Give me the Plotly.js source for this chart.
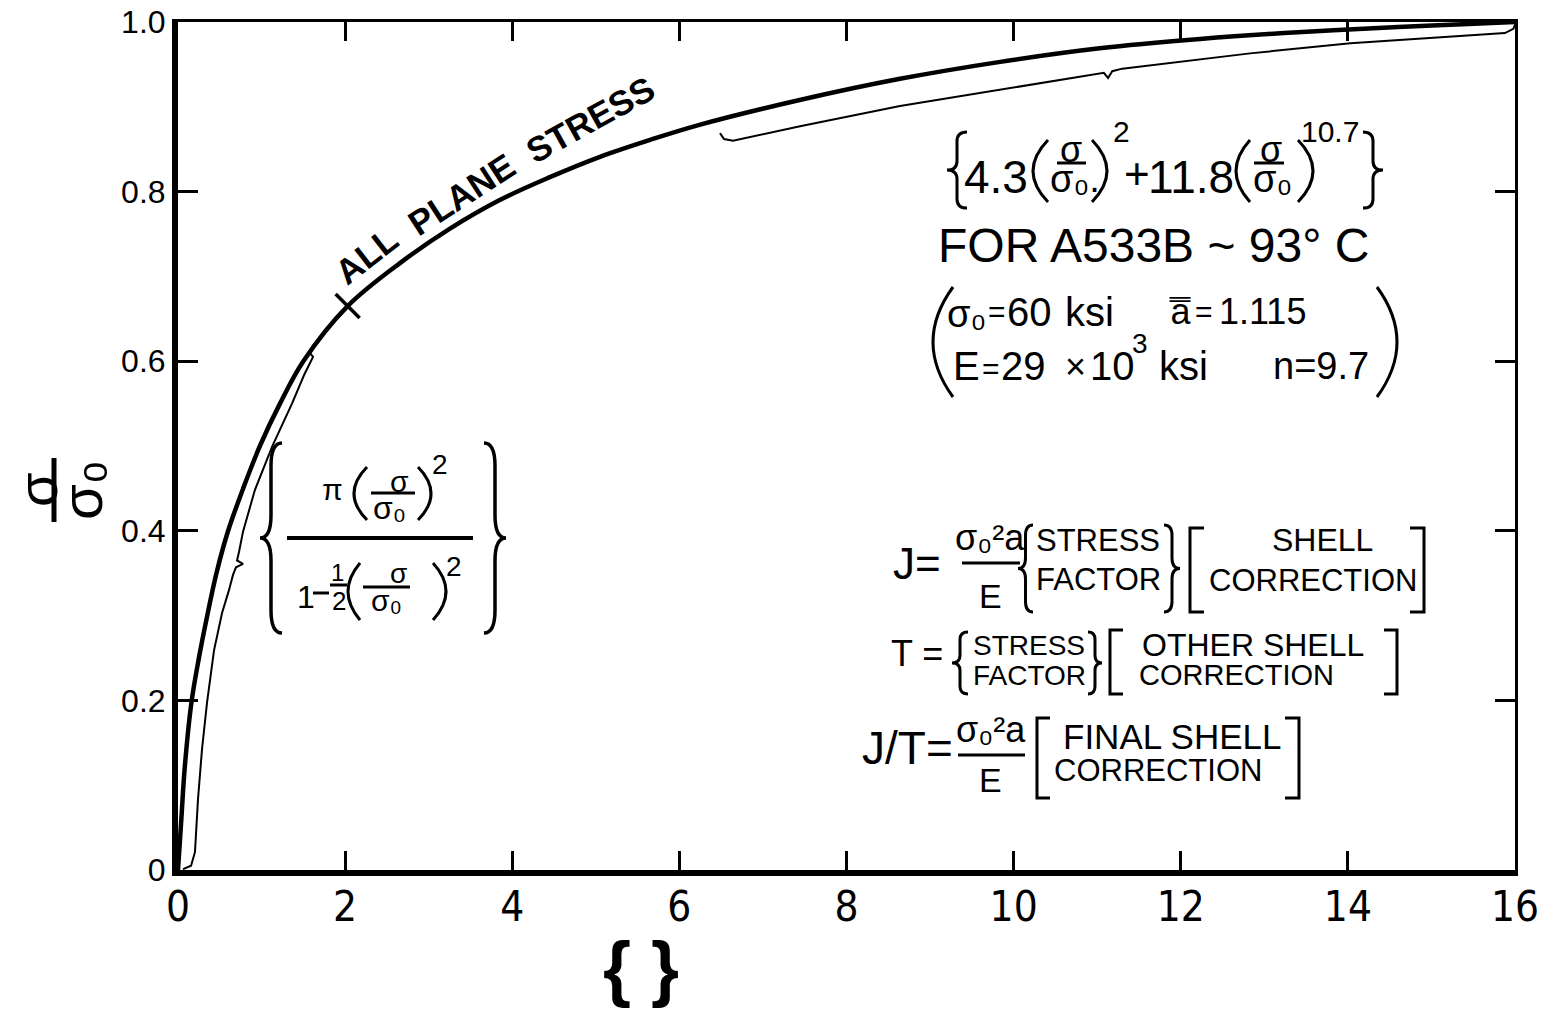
<!DOCTYPE html>
<html>
<head>
<meta charset="utf-8">
<script src="https://cdn.plot.ly/plotly-3.0.1.min.js"></script>
<style>
  html, body { margin: 0; padding: 0; background: #fff; }
  #chart { width: 1551px; height: 1012px; }
</style>
</head>
<body>
<div id="chart"></div>
<script>
// Stress-factor curve for plane stress, sigma/sigma0 against the stress factor { }
const xTicks = [0, 2, 4, 6, 8, 10, 12, 14, 16];
const yTicks = [0, 0.2, 0.4, 0.6, 0.8, 1.0];
const yTickText = ['0', '0.2', '0.4', '0.6', '0.8', '1.0'];

// "ALL PLANE STRESS" curve
const mainX = [0, 0.04, 0.08, 0.16, 0.25, 0.35, 0.46, 0.60, 0.78, 0.98, 1.22, 1.50, 2.03,
               2.66, 3.25, 3.85, 4.45, 5.05, 5.65, 6.25, 7.44, 8.64, 9.84, 11.03, 12.23, 13.4, 14.6, 15.3, 16.0];
const mainY = [0, 0.06, 0.12, 0.197, 0.25, 0.30, 0.35, 0.40, 0.45, 0.50, 0.55, 0.60, 0.665,
               0.716, 0.756, 0.790, 0.817, 0.841, 0.861, 0.879, 0.908, 0.933, 0.953, 0.969, 0.980, 0.988, 0.994, 0.997, 1.0];

// range brace for the low-stress formula
const lowBraceX = [0.060, 0.156, 0.203, 0.239, 0.287, 0.347, 0.431, 0.527, 0.610, 0.658, 0.694, 0.778, 0.706,
                   0.730, 0.778, 0.920, 1.125, 1.364, 1.510, 1.580, 1.616, 1.568];
const lowBraceY = [0.001, 0.005, 0.021, 0.083, 0.142, 0.197, 0.259, 0.303, 0.330, 0.348, 0.357, 0.361, 0.365,
                   0.375, 0.399, 0.448, 0.499, 0.550, 0.584, 0.598, 0.605, 0.611];

// range brace for the high-stress formula
const highBraceX = [6.486, 6.534, 6.642, 7.444, 8.640, 9.837, 10.974, 11.08, 11.13, 11.18, 11.30, 12.23,
                    12.83, 14.03, 15.22, 15.88, 15.98, 16.01];
const highBraceY = [0.869, 0.862, 0.860, 0.877, 0.901, 0.920, 0.9375, 0.940, 0.934, 0.942, 0.945, 0.956,
                    0.963, 0.975, 0.983, 0.987, 0.992, 0.999];

// tick mark on the curve
const markX = [2.03];
const markY = [0.665];

// page geometry of the plotting area (pixels)
const L = 178, T = 22, W = 1337, H = 848;
const fx = px => (px - L) / W;
const fy = py => (T + H - py) / H;
const P = (x, y) => fx(x).toFixed(5) + ',' + fy(y).toFixed(5);

const F = "'Liberation Sans', Arial, sans-serif";
const FN = "'DejaVu Sans Condensed', 'Liberation Sans Narrow', 'Liberation Sans', Arial, sans-serif";
const INK = '#000';

function note(text, px, py, size, o) {
  return Object.assign({
    text: text, x: fx(px), y: fy(py), xref: 'paper', yref: 'paper', showarrow: false,
    xanchor: 'center', yanchor: 'middle', font: { family: F, size: size, color: INK }
  }, o || {});
}
function seg(x0, y0, x1, y1, w) {
  return { type: 'line', xref: 'paper', yref: 'paper', x0: fx(x0), y0: fy(y0), x1: fx(x1), y1: fy(y1),
           line: { color: INK, width: w } };
}
function pathShape(d, w) {
  return { type: 'path', xref: 'paper', yref: 'paper', path: d, line: { color: INK, width: w } };
}
function brace(xL, xR, yT, yB, side, w) {
  const ym = (yT + yB) / 2, bw = xR - xL, h = yB - yT, k = Math.min(h * 0.12, bw * 1.2);
  let tip, stem, end;
  if (side === 'L') { tip = xL; stem = xL + bw * 0.5; end = xR; }
  else { tip = xR; stem = xR - bw * 0.5; end = xL; }
  const d = `M${P(end, yT)} Q${P(stem, yT)} ${P(stem, yT + k)} L${P(stem, ym - k)} Q${P(stem, ym)} ${P(tip, ym)} ` +
            `Q${P(stem, ym)} ${P(stem, ym + k)} L${P(stem, yB - k)} Q${P(stem, yB)} ${P(end, yB)}`;
  return pathShape(d, w);
}
function paren(xL, xR, yT, yB, side, w) {
  const ym = (yT + yB) / 2;
  const d = side === 'L'
    ? `M${P(xR, yT)} Q${P(2 * xL - xR, ym)} ${P(xR, yB)}`
    : `M${P(xL, yT)} Q${P(2 * xR - xL, ym)} ${P(xL, yB)}`;
  return pathShape(d, w);
}
function bracket(xL, xR, yT, yB, side, w) {
  const d = side === 'L'
    ? `M${P(xR, yT)} L${P(xL, yT)} L${P(xL, yB)} L${P(xR, yB)}`
    : `M${P(xL, yT)} L${P(xR, yT)} L${P(xR, yB)} L${P(xL, yB)}`;
  return pathShape(d, w);
}

const shapes = [];
const notes = [];

// y-axis title: sigma / sigma0, turned on its side
notes.push(note('σ', 38, 490, 56, { textangle: -90 }));
shapes.push(seg(54, 458, 54, 522, 5));
notes.push(note('σ₀', 82, 490, 58, { textangle: -90 }));

// x-axis title
notes.push(note('{ }', 641, 968, 72, { font: { family: F, size: 72, color: INK, weight: 'bold' } }));

// label along the curve
const lab = { family: F, color: INK, weight: 'bold' };
notes.push(note('ALL', 366, 255, 35, { textangle: -38, font: Object.assign({ size: 35 }, lab) }));
notes.push(note('PLANE', 461, 194, 35, { textangle: -33, font: Object.assign({ size: 35 }, lab) }));
notes.push(note('STRESS', 590, 119, 35, { textangle: -29, font: Object.assign({ size: 35 }, lab) }));

// high-stress factor formula
shapes.push(brace(947, 967, 132, 208, 'L', 3));
notes.push(note('4.3', 996, 177, 46));
shapes.push(paren(1033, 1048, 140, 202, 'L', 3));
notes.push(note('σ', 1071, 150, 36));
shapes.push(seg(1057, 163, 1086, 163, 3));
notes.push(note('σ₀.', 1075, 179, 38));
shapes.push(paren(1092, 1107, 140, 202, 'R', 3));
notes.push(note('2', 1121, 131, 30));
notes.push(note('+', 1137, 173, 44));
notes.push(note('11.8', 1191, 177, 46));
shapes.push(paren(1236, 1250, 140, 202, 'L', 3));
notes.push(note('σ', 1271, 150, 36));
shapes.push(seg(1254, 163, 1284, 163, 3));
notes.push(note('σ₀', 1272, 179, 38));
shapes.push(paren(1298, 1313, 140, 202, 'R', 3));
notes.push(note('10.7', 1330, 131, 30));
shapes.push(brace(1363, 1383, 132, 208, 'R', 3));

notes.push(note('FOR A533B ~ 93° C', 1153, 245, 48));

shapes.push(paren(933, 953, 287, 397, 'L', 3));
shapes.push(paren(1377, 1397, 287, 397, 'R', 3));
notes.push(note('σ₀', 967, 314, 38));
notes.push(note('=', 997, 312, 30));
notes.push(note('60', 1029, 312, 40));
notes.push(note('ksi', 1089, 312, 40));
notes.push(note('a\u033F', 1180, 312, 36));
notes.push(note('=', 1204, 312, 30));
notes.push(note('1.115', 1262, 312, 36));
notes.push(note('E', 966, 366, 40));
notes.push(note('=', 991, 368, 30));
notes.push(note('29', 1023, 366, 40));
notes.push(note('×', 1075, 366, 36));
notes.push(note('10', 1112, 366, 40));
notes.push(note('3', 1140, 343, 28));
notes.push(note('ksi', 1183, 366, 40));
notes.push(note('n=9.7', 1321, 366, 38));

// low-stress factor formula
shapes.push(brace(260, 282, 443, 633, 'L', 3.5));
shapes.push(brace(484, 506, 443, 633, 'R', 3.5));
notes.push(note('π', 332, 489, 30));
shapes.push(paren(354, 367, 467, 520, 'L', 3));
notes.push(note('σ', 399, 481, 30));
shapes.push(seg(371, 493, 415, 493, 3));
notes.push(note('σ₀', 389, 508, 32));
shapes.push(paren(418, 431, 467, 520, 'R', 3));
notes.push(note('2', 440, 464, 28));
shapes.push(seg(287, 538, 473, 538, 4));
notes.push(note('1', 306, 597, 32));
shapes.push(seg(313, 593, 329, 593, 3));
notes.push(note('1', 337, 572, 24));
shapes.push(seg(330, 585, 347, 585, 3));
notes.push(note('2', 339, 601, 26));
shapes.push(paren(348, 360, 563, 620, 'L', 3));
notes.push(note('σ', 398, 573, 28));
shapes.push(seg(363, 587, 410, 587, 3));
notes.push(note('σ₀', 386, 600, 30));
shapes.push(paren(433, 446, 563, 620, 'R', 3));
notes.push(note('2', 454, 566, 28));

// J, T and J/T relations
notes.push(note('J=', 917, 563, 44));
notes.push(note('σ₀²a', 990, 537, 36));
shapes.push(seg(962, 563, 1020, 563, 3));
notes.push(note('E', 990, 596, 34));
shapes.push(brace(1018, 1033, 525, 612, 'L', 3));
notes.push(note('STRESS', 1098, 540, 31));
notes.push(note('FACTOR', 1098, 579, 31));
shapes.push(brace(1164, 1180, 525, 612, 'R', 3));
shapes.push(bracket(1190, 1204, 528, 612, 'L', 3));
notes.push(note('SHELL', 1322, 540, 32));
notes.push(note('CORRECTION', 1313, 580, 31));
shapes.push(bracket(1410, 1424, 528, 612, 'R', 3));

notes.push(note('T =', 917, 653, 36));
shapes.push(brace(952, 968, 632, 694, 'L', 3));
notes.push(note('STRESS', 1029, 645, 28));
notes.push(note('FACTOR', 1029, 675, 28));
shapes.push(brace(1088, 1102, 632, 694, 'R', 3));
shapes.push(bracket(1110, 1123, 630, 694, 'L', 3));
notes.push(note('OTHER SHELL', 1253, 645, 32));
notes.push(note('CORRECTION', 1236, 675, 29));
shapes.push(bracket(1384, 1397, 630, 694, 'R', 3));

notes.push(note('J/T=', 907, 748, 46));
notes.push(note('σ₀²a', 991, 729, 36));
shapes.push(seg(958, 755, 1025, 755, 3));
notes.push(note('E', 990, 780, 34));
shapes.push(bracket(1037, 1050, 718, 798, 'L', 3));
notes.push(note('FINAL SHELL', 1172, 736, 35));
notes.push(note('CORRECTION', 1158, 770, 31));
shapes.push(bracket(1285, 1299, 718, 798, 'R', 3));

const traces = [
  { x: mainX, y: mainY, mode: 'lines', line: { color: INK, width: 4.5, shape: 'spline', smoothing: 1 },
    cliponaxis: false, hoverinfo: 'skip', showlegend: false },
  { x: lowBraceX, y: lowBraceY, mode: 'lines', line: { color: INK, width: 2 },
    cliponaxis: false, hoverinfo: 'skip', showlegend: false },
  { x: highBraceX, y: highBraceY, mode: 'lines', line: { color: INK, width: 2 },
    cliponaxis: false, hoverinfo: 'skip', showlegend: false },
  { x: markX, y: markY, mode: 'markers',
    marker: { symbol: 'line-nw', size: 24, color: INK, line: { color: INK, width: 3.5 } },
    cliponaxis: false, hoverinfo: 'skip', showlegend: false },
  // carries the mirrored top/right frame
  { x: [0], y: [0], xaxis: 'x2', yaxis: 'y2', mode: 'markers', marker: { opacity: 0 },
    hoverinfo: 'skip', showlegend: false }
];

const layout = {
  width: 1551, height: 1012,
  margin: { l: L, r: 1551 - L - W, t: T, b: 1012 - T - H },
  paper_bgcolor: '#fff', plot_bgcolor: '#fff',
  showlegend: false,
  xaxis: {
    range: [0, 16], tickvals: xTicks, ticktext: xTicks.map(String),
    ticks: 'inside', ticklen: 19, tickwidth: 3, tickcolor: INK, ticklabelstandoff: -5,
    showline: true, linewidth: 6, linecolor: INK, showgrid: false, zeroline: false,
    tickfont: { family: FN, size: 42, color: INK }
  },
  yaxis: {
    range: [0, 1], tickvals: yTicks, ticktext: yTickText,
    ticks: 'inside', ticklen: 20, tickwidth: 3, tickcolor: INK,
    showline: true, linewidth: 6, linecolor: INK, showgrid: false, zeroline: false,
    tickfont: { family: F, size: 32, color: INK }
  },
  xaxis2: {
    overlaying: 'x', side: 'top', anchor: 'y2', range: [0, 16], tickvals: xTicks,
    ticks: 'inside', ticklen: 19, tickwidth: 3, tickcolor: INK, showticklabels: false,
    showline: true, linewidth: 3.5, linecolor: INK, showgrid: false, zeroline: false
  },
  yaxis2: {
    overlaying: 'y', side: 'right', anchor: 'x2', range: [0, 1], tickvals: yTicks,
    ticks: 'inside', ticklen: 20, tickwidth: 3, tickcolor: INK, showticklabels: false,
    showline: true, linewidth: 3, linecolor: INK, showgrid: false, zeroline: false
  },
  shapes: shapes,
  annotations: notes
};

Plotly.newPlot('chart', traces, layout, { staticPlot: true, displayModeBar: false });
</script>
</body>
</html>
